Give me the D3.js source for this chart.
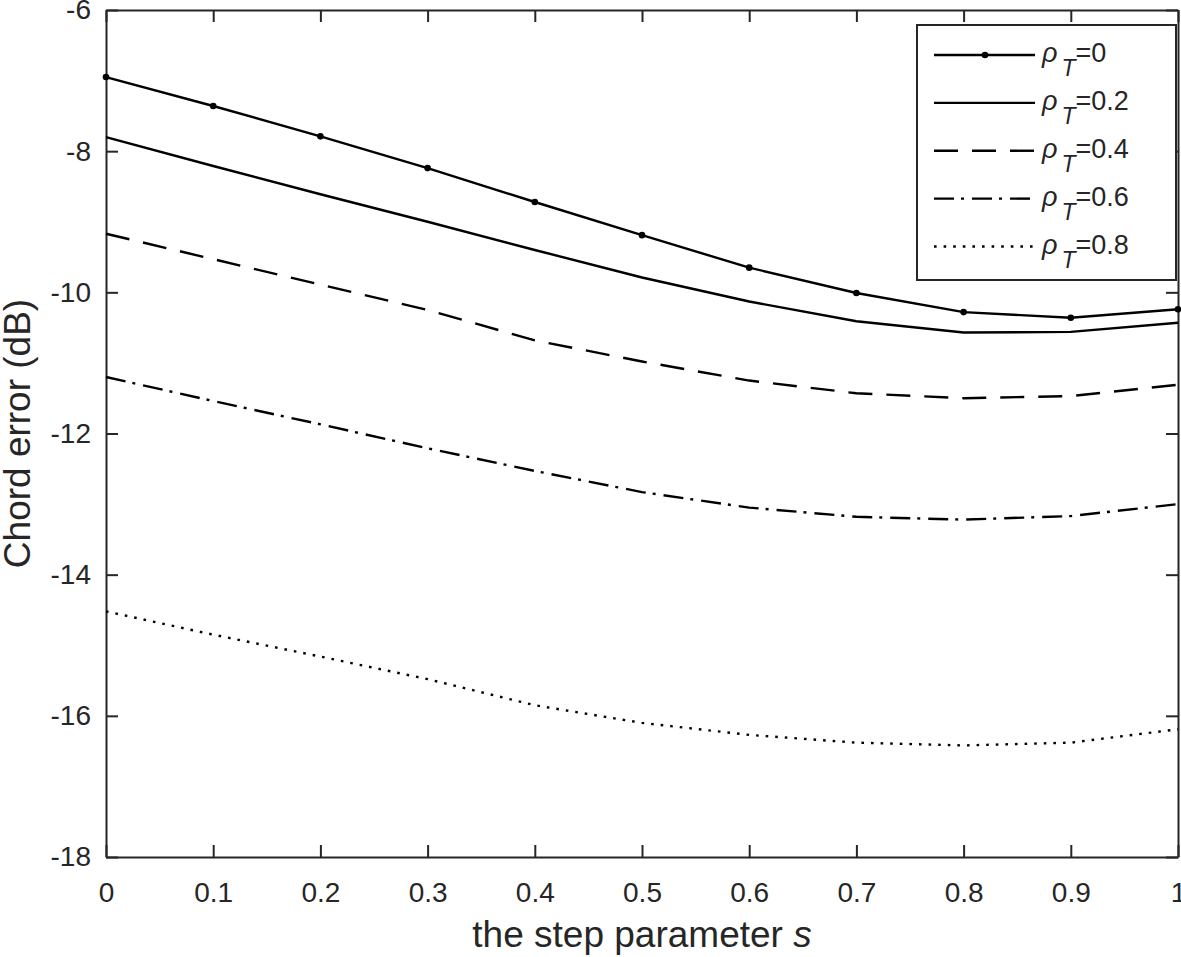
<!DOCTYPE html>
<html>
<head>
<meta charset="utf-8">
<script src="https://cdn.jsdelivr.net/npm/d3@7"></script>
<style>
  body { margin: 0; background: #fff; }
  svg text { font-family: "Liberation Sans", Arial, Helvetica, sans-serif; fill: #262626; }
</style>
</head>
<body>
<svg id="chart" width="1181" height="957"></svg>
<script>
// step parameter s
var sValues = [0, 0.1, 0.2, 0.3, 0.4, 0.5, 0.6, 0.7, 0.8, 0.9, 1];

// chord error (dB) per rho_T
var rho00 = [-6.95, -7.36, -7.79, -8.24, -8.72, -9.19, -9.65, -10.01, -10.28, -10.36, -10.24];
var rho02 = [-7.80, -8.21, -8.61, -9.00, -9.40, -9.79, -10.13, -10.41, -10.57, -10.56, -10.43];
var rho04 = [-9.17, -9.53, -9.89, -10.25, -10.68, -10.98, -11.25, -11.43, -11.50, -11.47, -11.31];
var rho06 = [-11.20, -11.54, -11.87, -12.21, -12.53, -12.83, -13.05, -13.18, -13.22, -13.17, -13.00];
var rho08 = [-14.52, -14.85, -15.16, -15.48, -15.85, -16.10, -16.27, -16.38, -16.42, -16.38, -16.19];

var legendLabels = ["0", "0.2", "0.4", "0.6", "0.8"];
var xTicks = [0, 0.1, 0.2, 0.3, 0.4, 0.5, 0.6, 0.7, 0.8, 0.9, 1];
var yTicks = [-18, -16, -14, -12, -10, -8, -6];

(function() {

    var series = [
        { values: rho00, dash: null, markers: true },
        { values: rho02, dash: null, markers: false },
        { values: rho04, dash: "24,14", markers: false },
        { values: rho06, dash: "20,7,3,8", markers: false },
        { values: rho08, dash: "2.6,7", markers: false }
    ];

    var plotLeft = 106, plotRight = 1178, plotTop = 10, plotBottom = 857;
    var axisColor = "#262626";
    var tickLen = 12;

    var svg = d3.select("#chart");

    var x = d3.scaleLinear().domain([0, 1]).range([plotLeft, plotRight]);
    var y = d3.scaleLinear().domain([-18, -6]).range([plotBottom, plotTop]);

    var fmt = function(d) { return String(+d.toFixed(1)); };

    function styleAxis(g) {
        g.attr("font-family", null).attr("font-size", null);
        g.selectAll("path.domain").attr("stroke", axisColor).attr("stroke-width", 2);
        g.selectAll(".tick line").attr("stroke", axisColor).attr("stroke-width", 2);
        g.selectAll(".tick text").attr("fill", axisColor).style("font-size", "28px");
    }

    svg.append("g")
        .attr("transform", "translate(0," + plotBottom + ")")
        .call(d3.axisBottom(x).tickValues(xTicks).tickFormat(fmt)
            .tickSize(-tickLen).tickSizeOuter(0).tickPadding(25))
        .call(styleAxis);

    svg.append("g")
        .attr("transform", "translate(0," + plotTop + ")")
        .call(d3.axisTop(x).tickValues(xTicks).tickFormat("")
            .tickSize(-tickLen).tickSizeOuter(0))
        .call(styleAxis);

    svg.append("g")
        .attr("transform", "translate(" + plotLeft + ",0)")
        .call(d3.axisLeft(y).tickValues(yTicks).tickFormat(function(d) { return String(d); })
            .tickSize(-tickLen).tickSizeOuter(0).tickPadding(15))
        .call(styleAxis);

    svg.append("g")
        .attr("transform", "translate(" + plotRight + ",0)")
        .call(d3.axisRight(y).tickValues(yTicks).tickFormat("")
            .tickSize(-tickLen).tickSizeOuter(0))
        .call(styleAxis);

    // axis labels
    var xl = svg.append("text")
        .attr("x", (plotLeft + plotRight) / 2)
        .attr("y", 947)
        .attr("text-anchor", "middle")
        .style("font-size", "37px");
    xl.append("tspan").text("the step parameter ");
    xl.append("tspan").style("font-style", "italic").text("s");

    svg.append("text")
        .attr("transform", "translate(30," + ((plotTop + plotBottom) / 2) + ") rotate(-90)")
        .attr("text-anchor", "middle")
        .style("font-size", "37px")
        .text("Chord error (dB)");

    // data lines
    var line = d3.line()
        .x(function(d, i) { return x(sValues[i]); })
        .y(function(d) { return y(d); });

    var plot = svg.append("g");

    series.forEach(function(s) {
        plot.append("path")
            .datum(s.values)
            .attr("fill", "none")
            .attr("stroke", "#000")
            .attr("stroke-width", 2.4)
            .attr("stroke-dasharray", s.dash)
            .attr("d", line);
        if (s.markers) {
            plot.selectAll(null)
                .data(s.values)
                .enter().append("circle")
                .attr("cx", function(d, i) { return x(sValues[i]); })
                .attr("cy", function(d) { return y(d); })
                .attr("r", 3.3)
                .attr("fill", "#000");
        }
    });

    // legend
    var lg = svg.append("g");
    lg.append("rect")
        .attr("x", 917).attr("y", 25)
        .attr("width", 259).attr("height", 255)
        .attr("fill", "#fff")
        .attr("stroke", axisColor)
        .attr("stroke-width", 2);

    var rowY = d3.scaleLinear().domain([0, 4]).range([55, 246.5]);

    series.forEach(function(s, i) {
        var yy = rowY(i);
        lg.append("line")
            .attr("x1", 934).attr("x2", 1035)
            .attr("y1", yy).attr("y2", yy)
            .attr("stroke", "#000")
            .attr("stroke-width", 2.4)
            .attr("stroke-dasharray", s.dash);
        if (s.markers) {
            lg.append("circle")
                .attr("cx", 985).attr("cy", yy).attr("r", 3.3).attr("fill", "#000");
        }
        var t = lg.append("text")
            .attr("x", 1042)
            .attr("y", yy + 7)
            .style("font-size", "27px");
        t.append("tspan").style("font-style", "italic").text("\u03C1");
        t.append("tspan").style("font-style", "italic").style("font-size", "23px")
            .attr("dx", 4).attr("dy", 14).text("T");
        t.append("tspan").attr("dy", -14).text("=" + legendLabels[i]);
    });

})();
</script>
</body>
</html>
